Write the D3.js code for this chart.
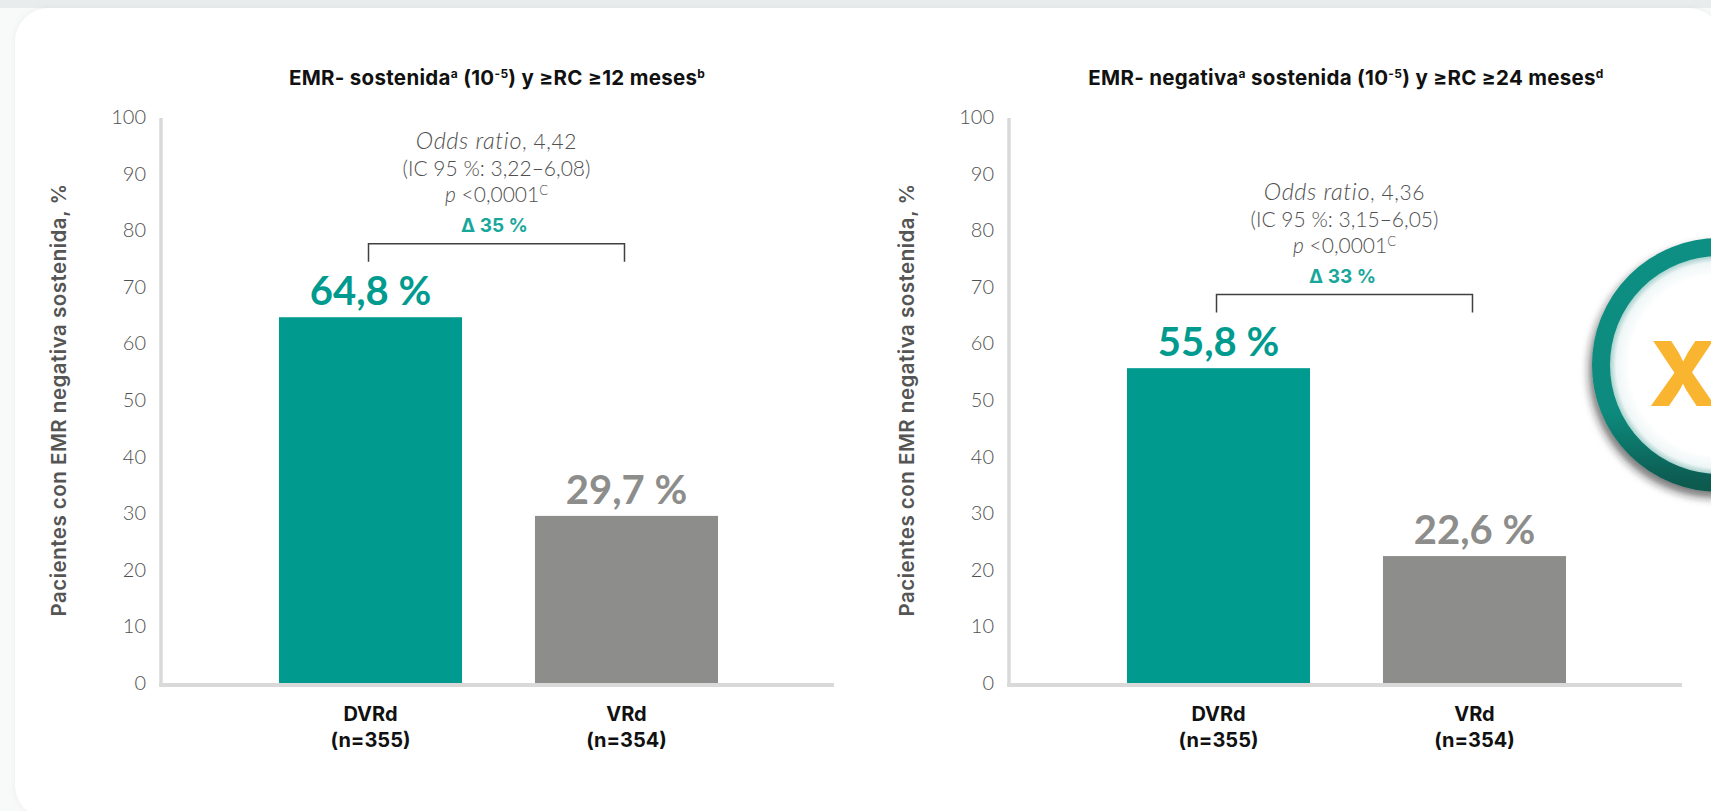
<!DOCTYPE html>
<html>
<head>
<meta charset="utf-8">
<script src="https://cdn.jsdelivr.net/npm/d3@7"></script>
<style>
    html, body { margin: 0; padding: 0; background: #f8f9f9; overflow: hidden; }
    text { font-family: "Lato", "Open Sans", sans-serif; }
    .heavy { font-family: "Inter", "Lato", sans-serif; }
    .axis path, .axis line { display: none; }
</style>
</head>
<body>
<svg id="slide" width="1711" height="811"></svg>
<script>
// values per chart
const categories = ["DVRd", "VRd"];
const sampleSizes = ["(n=355)", "(n=354)"];
const valuesLeft = [64.8, 29.7];
const valuesRight = [55.8, 22.6];
const yTicks = [0, 10, 20, 30, 40, 50, 60, 70, 80, 90, 100];
const oddsLeft = ["4,42", "(IC 95 %: 3,22–6,08)", "<0,0001", "Δ 35 %"];
const oddsRight = ["4,36", "(IC 95 %: 3,15–6,05)", "<0,0001", "Δ 33 %"];
const yTitle = "Pacientes con EMR negativa sostenida, %";

const teal = "#009b8e";
const grey = "#8d8d8b";
const tickGrey = "#505050";
const axisGrey = "#d9d9d9";

let svg = d3.select("#slide");
let defs = svg.append("defs");

let cardShadow = defs.append("filter").attr("id", "cardShadow")
    .attr("x", "-5%").attr("y", "-5%").attr("width", "110%").attr("height", "110%");
cardShadow.append("feDropShadow")
    .attr("dx", 0).attr("dy", 0).attr("stdDeviation", 3)
    .attr("flood-color", "#888").attr("flood-opacity", 0.12);

let ringShadow = defs.append("filter").attr("id", "ringShadow")
    .attr("x", "-30%").attr("y", "-30%").attr("width", "160%").attr("height", "160%");
ringShadow.append("feDropShadow")
    .attr("dx", -3).attr("dy", 6).attr("stdDeviation", 4)
    .attr("flood-color", "#222").attr("flood-opacity", 0.6);

// inner edge of the ring sits at about 0.924 of the gradient radius
let ringGlow = defs.append("radialGradient").attr("id", "ringGlow");
ringGlow.append("stop").attr("offset", "0.76").attr("stop-color", "#ffffff");
ringGlow.append("stop").attr("offset", "0.87").attr("stop-color", "#eff6f6");
ringGlow.append("stop").attr("offset", "0.924").attr("stop-color", "#a6d1cd");

let ringStroke = defs.append("linearGradient").attr("id", "ringStroke")
    .attr("x1", 0).attr("y1", 0).attr("x2", 0).attr("y2", 1);
ringStroke.append("stop").attr("offset", "0").attr("stop-color", "#0c8f83");
ringStroke.append("stop").attr("offset", "0.7").attr("stop-color", "#0b8a7d");
ringStroke.append("stop").attr("offset", "1").attr("stop-color", "#075a50");

// slide background and card
svg.append("rect").attr("width", 1711).attr("height", 8).attr("fill", "#e9ecec");
svg.append("rect")
    .attr("x", 15).attr("y", 8)
    .attr("width", 1707).attr("height", 811)
    .attr("rx", 34).attr("ry", 34)
    .attr("fill", "#ffffff")
    .attr("filter", "url(#cardShadow)");

function drawChart(cfg) {
    let g = svg.append("g");

    let yScale = d3.scaleLinear().domain([0, 100]).range([684, 118]);
    let xScale = d3.scaleBand()
        .domain(cfg.categories)
        .range([cfg.left + 1, cfg.right + 1])
        .paddingInner(0.285)
        .paddingOuter(0.457);

    // bars
    g.selectAll("rect.bar").data(cfg.values).enter().append("rect")
        .attr("class", "bar")
        .attr("x", (d, i) => xScale(cfg.categories[i]))
        .attr("y", d => yScale(d))
        .attr("width", xScale.bandwidth())
        .attr("height", d => yScale(0) - yScale(d))
        .attr("fill", (d, i) => i === 0 ? teal : grey);

    // axis lines
    g.append("line").attr("x1", cfg.left).attr("x2", cfg.left)
        .attr("y1", yScale(100)).attr("y2", yScale(0) + 3)
        .attr("stroke", axisGrey).attr("stroke-width", 3.5);
    g.append("line").attr("x1", cfg.left - 1.75).attr("x2", cfg.right)
        .attr("y1", yScale(0) + 1).attr("y2", yScale(0) + 1)
        .attr("stroke", axisGrey).attr("stroke-width", 4);

    let yAxis = d3.axisLeft(yScale).tickValues(yTicks).tickSize(0).tickPadding(15);
    g.append("g").attr("class", "axis")
        .attr("transform", "translate(" + cfg.left + ",-1)")
        .call(yAxis)
        .selectAll("text")
        .attr("font-size", 20).attr("font-weight", 300)
        .style("font-family", "Lato").attr("fill", tickGrey);

    // value labels
    g.selectAll("text.value").data(cfg.values).enter().append("text")
        .attr("class", "value")
        .attr("x", (d, i) => xScale(cfg.categories[i]) + xScale.bandwidth() / 2)
        .attr("y", d => yScale(d) - 12)
        .attr("text-anchor", "middle")
        .attr("font-size", 40).attr("font-weight", 700)
        .attr("fill", (d, i) => i === 0 ? teal : grey)
        .text(d => String(d).replace(".", ",") + " %");

    // category labels
    cfg.categories.forEach((c, i) => {
        let cx = xScale(c) + xScale.bandwidth() / 2;
        g.append("text").attr("class", "heavy").attr("x", cx).attr("y", 721)
            .attr("text-anchor", "middle").attr("font-size", 20).attr("font-weight", 700)
            .attr("fill", "#111").text(c);
        g.append("text").attr("class", "heavy").attr("x", cx).attr("y", 747)
            .attr("text-anchor", "middle").attr("font-size", 20).attr("font-weight", 700)
            .attr("fill", "#111").text(sampleSizes[i]);
    });

    // bracket between the two bars, sits 13 points above the taller one
    let bx0 = xScale(cfg.categories[0]) + xScale.bandwidth() / 2 - 2;
    let bx1 = xScale(cfg.categories[1]) + xScale.bandwidth() / 2 - 2;
    let bTop = yScale(cfg.values[0] + 13);
    g.append("path")
        .attr("d", d3.line()([[bx0, bTop + 18], [bx0, bTop], [bx1, bTop], [bx1, bTop + 18]]))
        .attr("fill", "none").attr("stroke", "#404040").attr("stroke-width", 1.5);

    // odds ratio block above the bracket
    let ax = (bx0 + bx1) / 2;
    let first = g.append("text").attr("x", ax).attr("y", bTop - 95)
        .attr("text-anchor", "middle").attr("font-size", 21).attr("font-weight", 300)
        .attr("letter-spacing", 0.6).attr("fill", tickGrey);
    first.append("tspan").attr("font-style", "italic").attr("font-size", 23.5).text("Odds ratio");
    first.append("tspan").text(", " + cfg.odds[0]);

    g.append("text").attr("x", ax).attr("y", bTop - 68)
        .attr("text-anchor", "middle").attr("font-size", 21).attr("font-weight", 300)
        .attr("fill", tickGrey).text(cfg.odds[1]);

    let third = g.append("text").attr("x", ax).attr("y", bTop - 42)
        .attr("text-anchor", "middle").attr("font-size", 21).attr("font-weight", 300)
        .attr("fill", tickGrey);
    third.append("tspan").attr("font-style", "italic").text("p");
    third.append("tspan").text(" " + cfg.odds[2]);
    third.append("tspan").attr("font-size", 13).attr("dy", -7).text("C");

    g.append("text").attr("class", "heavy").attr("x", ax - 2).attr("y", bTop - 12)
        .attr("text-anchor", "middle").attr("font-size", 19).attr("font-weight", 700)
        .attr("fill", "#17a79b").text(cfg.odds[3]);

    // y title
    g.append("text").attr("class", "heavy")
        .attr("transform", "translate(" + cfg.titleX + ",400) rotate(-90)")
        .attr("text-anchor", "middle").attr("font-size", 20.5).attr("font-weight", 600)
        .attr("letter-spacing", 0.5)
        .attr("fill", "#555").text(yTitle);

    // chart title, pieces with superscripts
    let title = g.append("text").attr("class", "heavy").attr("x", cfg.titleCx).attr("y", 85)
        .attr("text-anchor", "middle").attr("font-size", 20.5).attr("font-weight", 700)
        .attr("letter-spacing", 0.3)
        .attr("fill", "#111");
    let raised = false;
    cfg.title.forEach(p => {
        let t = title.append("tspan").text(p[0]);
        if (p[1]) {
            t.attr("font-size", 12).attr("dy", -7);
        } else if (raised) {
            t.attr("dy", 7);
        }
        raised = !!p[1];
    });
}

drawChart({
    left: 161, right: 834, titleX: 66, titleCx: 497,
    categories: categories, values: valuesLeft, odds: oddsLeft,
    title: [["EMR- sostenida"], ["a", 1], [" (10"], ["-5", 1], [") y ≥RC ≥12 meses"], ["b", 1]]
});
drawChart({
    left: 1009, right: 1682, titleX: 914, titleCx: 1346,
    categories: categories, values: valuesRight, odds: oddsRight,
    title: [["EMR- negativa"], ["a", 1], [" sostenida (10"], ["-5", 1], [") y ≥RC ≥24 meses"], ["d", 1]]
});

// round badge cut off by the right edge
svg.append("circle").attr("cx", 1719).attr("cy", 365).attr("r", 118)
    .attr("fill", "url(#ringGlow)")
    .attr("stroke", "url(#ringStroke)").attr("stroke-width", 18)
    .attr("filter", "url(#ringShadow)");
svg.append("text").attr("class", "heavy").attr("x", 1683).attr("y", 406)
    .attr("text-anchor", "middle").attr("font-size", 90).attr("font-weight", 800)
    .attr("fill", "#f9b52f").text("X");
</script>
</body>
</html>
